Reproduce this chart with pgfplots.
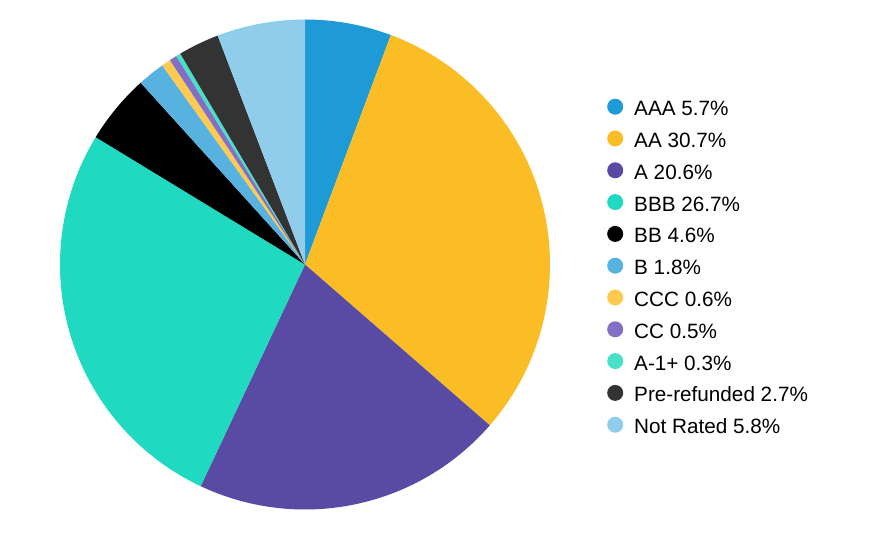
\documentclass[border=0pt]{standalone}
\usepackage{fontspec}
\setmainfont{Liberation Sans}
\usepackage{pgfplots}
\usepackage{pgfplotstable}
\pgfplotsset{compat=1.18}

\definecolor{cAAA}{HTML}{1E9AD6}
\definecolor{cAA}{HTML}{FBBD25}
\definecolor{cA}{HTML}{594AA4}
\definecolor{cBBB}{HTML}{1FD9C0}
\definecolor{cBB}{HTML}{000000}
\definecolor{cB}{HTML}{58B2E0}
\definecolor{cCCC}{HTML}{FFCA50}
\definecolor{cCC}{HTML}{8270C4}
\definecolor{cAone}{HTML}{48E0C8}
\definecolor{cPre}{HTML}{333333}
\definecolor{cNR}{HTML}{8FCDEB}

% rating shares, clockwise from 12 o'clock
\pgfplotstableread[col sep=comma]{
name,value,color
AAA,5.7,cAAA
AA,30.7,cAA
A,20.6,cA
BBB,26.7,cBBB
BB,4.6,cBB
B,1.8,cB
CCC,0.6,cCCC
CC,0.5,cCC
A-1+,0.3,cAone
Pre-refunded,2.7,cPre
Not Rated,5.8,cNR
}\ratings

% build slices and legend from the table
\gdef\slices{}
\gdef\legs{}
\gdef\cum{90}
\pgfplotsforeachungrouped\i in {0,...,10}{%
  \pgfplotstablegetelem{\i}{value}\of\ratings \let\v\pgfplotsretval
  \pgfplotstablegetelem{\i}{name}\of\ratings \let\nm\pgfplotsretval
  \pgfplotstablegetelem{\i}{color}\of\ratings \let\col\pgfplotsretval
  \pgfmathsetmacro\endang{\cum-3.6*\v}%
  \xdef\slices{\unexpanded\expandafter{\slices}%
    \noexpand\fill[\col] (axis cs:305,275.5) -- ++(\cum:245pt)
      arc[start angle=\cum, end angle=\endang, radius=245pt] -- cycle;}%
  \xdef\legs{\unexpanded\expandafter{\legs}%
    \noexpand\addlegendimage{fill=\col}%
    \noexpand\addlegendentry{\nm\space\v\noexpand\%}}%
  \global\let\cum\endang
}

\begin{document}
\begin{tikzpicture}
  \begin{axis}[
      hide axis,
      x=1pt, y=1pt,
      xmin=0, xmax=876,
      ymin=0, ymax=540,
      clip=false,
      legend cell align=left,
      legend image code/.code={\fill[draw=none] (8pt,4pt) circle[radius=8pt];},
      legend style={
          at={(axis cs:604,443.5)},
          anchor=north west,
          draw=none, fill=none,
          font=\fontsize{20.7}{24}\selectfont,
          row sep=8.8pt,
          nodes={text height=14pt, text depth=4pt, inner sep=2pt},
          /tikz/every odd column/.append style={column sep=9pt}
      }
    ]
    \path (axis cs:0,0) rectangle (axis cs:876,540);
    \slices
    \legs
  \end{axis}
\end{tikzpicture}
\end{document}
